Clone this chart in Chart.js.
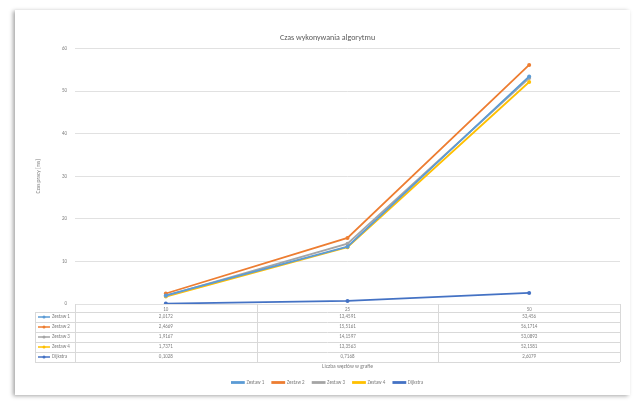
<!DOCTYPE html>
<html>
<head>
<meta charset="utf-8">
<script src="https://cdn.jsdelivr.net/npm/chart.js@4"></script>
<style>
    html, body { margin: 0; padding: 0; background: #ffffff; }
    #card {
        position: absolute; left: 15px; top: 10px; width: 615px; height: 385px;
        background: #ffffff; box-shadow: -2px 1px 4px rgba(0, 0, 0, 0.35);
    }
    #wrap { position: absolute; left: 0; top: 0; width: 637px; height: 407px; }
</style>
</head>
<body>
<div id="card"></div>
<div id="wrap"><canvas id="chart" width="637" height="407"></canvas></div>
<script>
// Data
const categories = ['10', '25', '50'];
const seriesNames = ['Zestaw 1', 'Zestaw 2', 'Zestaw 3', 'Zestaw 4', 'Dijkstra'];
const zestaw1 = [2.0172, 13.4591, 53.456];
const zestaw2 = [2.4669, 15.5161, 56.1714];
const zestaw3 = [1.9167, 14.1597, 53.0893];
const zestaw4 = [1.7371, 13.3563, 52.1581];
const dijkstra = [0.1028, 0.7168, 2.6079];
const yTicks = [0, 10, 20, 30, 40, 50, 60];

const colors = ['#5B9BD5', '#ED7D31', '#A5A5A5', '#FFC000', '#4472C4'];
const allSeries = [zestaw1, zestaw2, zestaw3, zestaw4, dijkstra];
const textColor = '#7f7f7f';
const lineColor = '#d9d9d9';
const font = 'Calibri, "Liberation Sans", sans-serif';

function fmt(v) {
    return v.toLocaleString('pl-PL', { maximumFractionDigits: 4 });
}

// Draws the Excel-like data table below the x axis, using the chart's own x scale for columns
const dataTable = {
    id: 'dataTable',
    afterDraw(chart) {
        const ctx = chart.ctx;
        const x = chart.scales.x;
        const area = chart.chartArea;
        const rowTop = area.bottom + 8;
        const rowH = 10;
        const labelLeft = area.left - 40;
        const bottom = rowTop + rowH * allSeries.length;

        ctx.save();
        ctx.strokeStyle = lineColor;
        ctx.lineWidth = 1;

        // horizontal lines
        for (let r = 0; r <= allSeries.length; r++) {
            const y = Math.round(rowTop + r * rowH) + 0.5;
            ctx.beginPath();
            ctx.moveTo(labelLeft, y);
            ctx.lineTo(area.right, y);
            ctx.stroke();
        }
        // vertical lines at column borders
        const borders = [labelLeft, area.left];
        for (let i = 0; i < categories.length - 1; i++) {
            borders.push((x.getPixelForValue(i) + x.getPixelForValue(i + 1)) / 2);
        }
        borders.push(area.right);
        borders.forEach((bx, i) => {
            const px = Math.round(bx) + 0.5;
            ctx.beginPath();
            ctx.moveTo(px, i === 0 ? rowTop : area.bottom);
            ctx.lineTo(px, bottom);
            ctx.stroke();
        });

        // cells
        ctx.font = '5px ' + font;
        ctx.textBaseline = 'middle';
        allSeries.forEach((data, s) => {
            const cy = rowTop + s * rowH + rowH / 2;
            // legend key
            ctx.strokeStyle = colors[s];
            ctx.fillStyle = colors[s];
            ctx.lineWidth = 1.5;
            ctx.beginPath();
            ctx.moveTo(labelLeft + 3, cy);
            ctx.lineTo(labelLeft + 15, cy);
            ctx.stroke();
            ctx.beginPath();
            ctx.arc(labelLeft + 9, cy, 1.5, 0, Math.PI * 2);
            ctx.fill();
            ctx.fillStyle = textColor;
            ctx.textAlign = 'left';
            ctx.fillText(seriesNames[s], labelLeft + 17, cy);
            ctx.textAlign = 'center';
            data.forEach((v, i) => {
                ctx.fillText(fmt(v), x.getPixelForValue(i), cy);
            });
        });
        ctx.restore();
    }
};

new Chart(document.getElementById('chart'), {
    type: 'line',
    data: {
        labels: categories,
        datasets: allSeries.map((data, i) => ({
            label: seriesNames[i],
            data: data,
            borderColor: colors[i],
            backgroundColor: colors[i],
            borderWidth: 1.8,
            pointRadius: 2,
            pointBorderWidth: 0,
            fill: false,
            tension: 0
        }))
    },
    options: {
        responsive: false,
        animation: false,
        layout: { padding: { left: 35, right: 17, top: 10, bottom: 12 } },
        plugins: {
            title: {
                display: true,
                text: 'Czas wykonywania algorytmu',
                color: '#595959',
                font: { family: font, size: 8, weight: 'normal' },
                padding: { top: 23, bottom: 6 }
            },
            legend: {
                position: 'bottom',
                labels: {
                    color: textColor,
                    font: { family: font, size: 5 },
                    boxWidth: 12,
                    boxHeight: 1,
                    padding: 8
                }
            },
            tooltip: { enabled: false }
        },
        scales: {
            x: {
                offset: true,
                grid: { display: false, drawTicks: false },
                border: { display: false },
                ticks: { color: textColor, font: { family: font, size: 5 }, padding: 3, maxRotation: 0 },
                title: {
                    display: true,
                    text: 'Liczba węzłów w grafie',
                    color: textColor,
                    font: { family: font, size: 5.5 },
                    padding: { top: 2, bottom: 2 }
                },
                afterFit: scale => { scale.height = 68; }
            },
            y: {
                min: 0,
                max: 60,
                afterBuildTicks: scale => { scale.ticks = yTicks.map(v => ({ value: v })); },
                grid: { color: lineColor, lineWidth: 0.8, drawTicks: false },
                border: { display: false },
                ticks: { color: textColor, font: { family: font, size: 5 }, padding: 8 },
                title: {
                    display: true,
                    text: 'Czas pracy [ms]',
                    color: textColor,
                    font: { family: font, size: 5.5 },
                    padding: { top: 0, bottom: 0 }
                },
                afterFit: scale => { scale.width = 40; }
            }
        }
    },
    plugins: [dataTable]
});
</script>
</body>
</html>
